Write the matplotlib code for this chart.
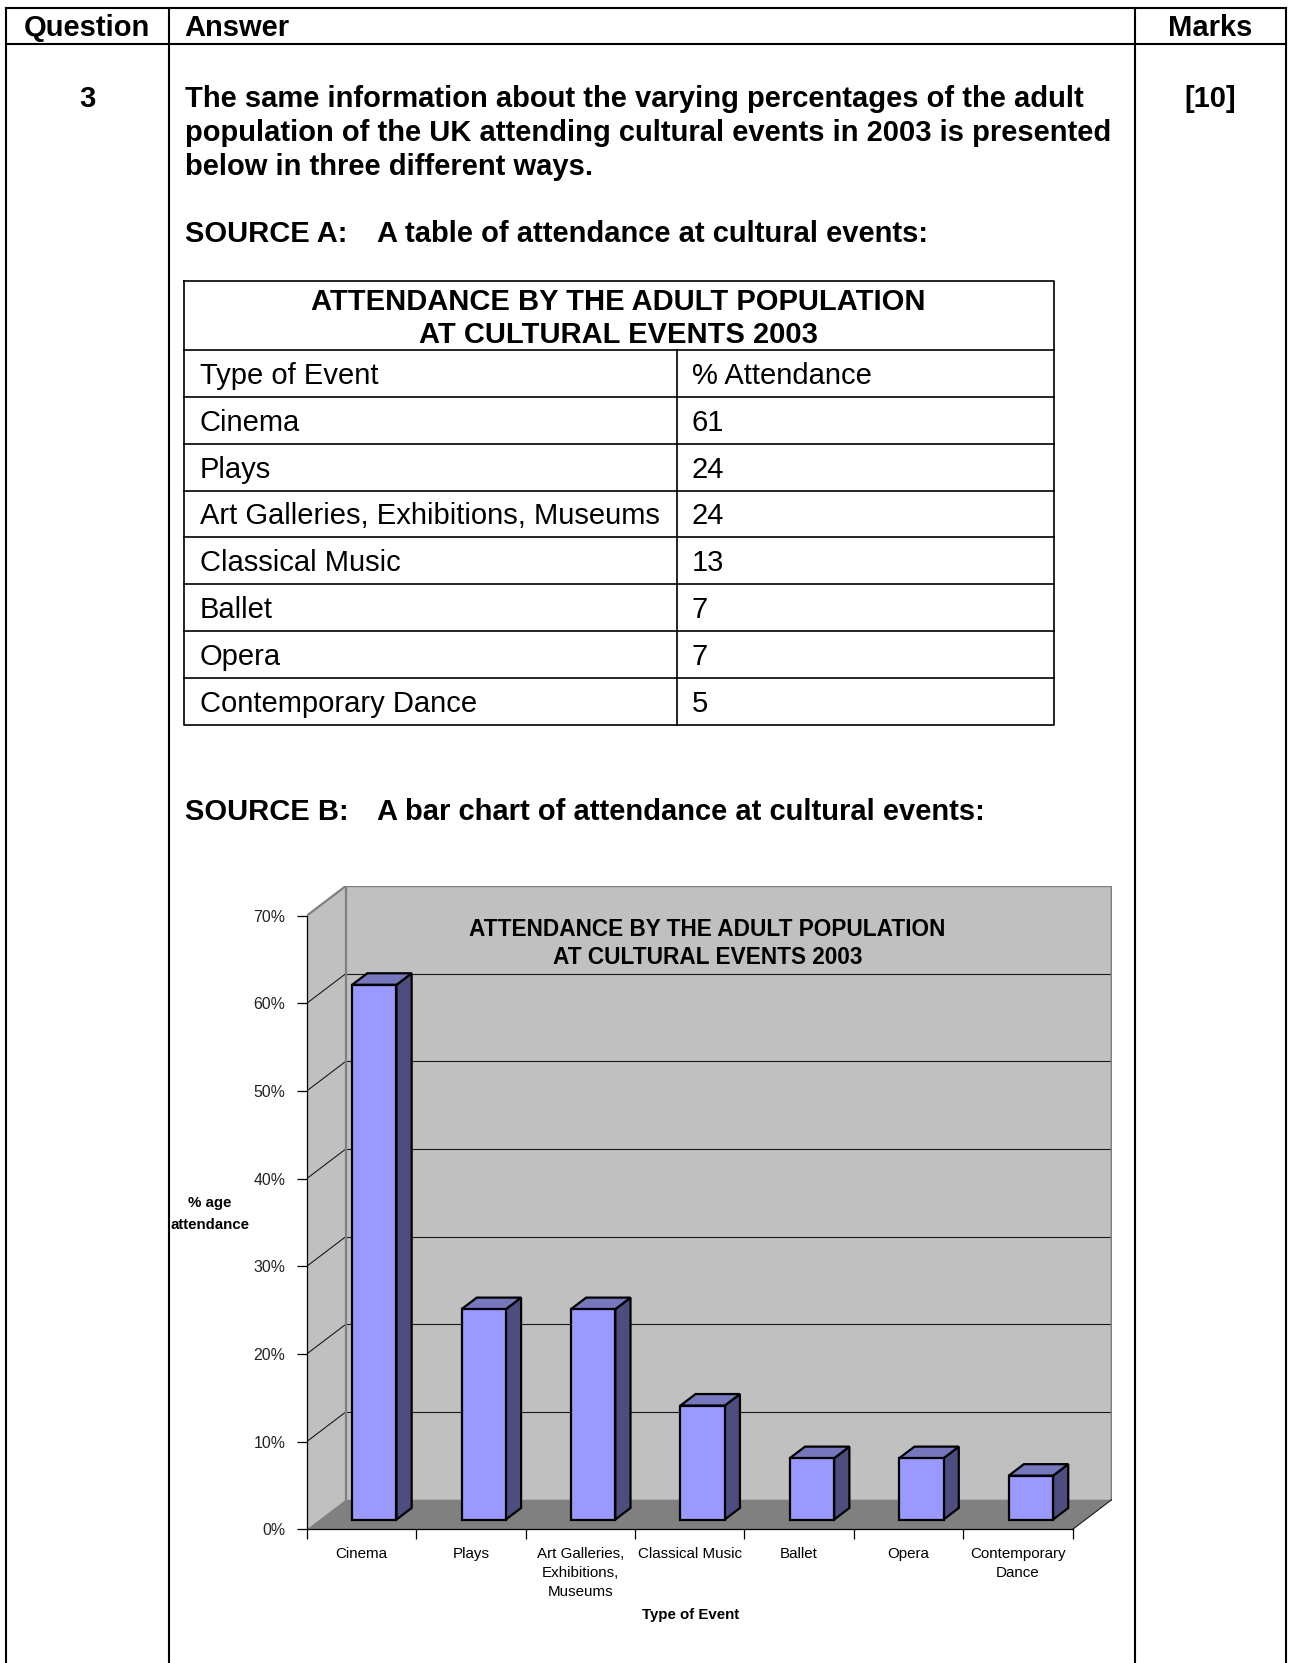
import matplotlib
matplotlib.use("Agg")
import matplotlib.pyplot as plt
from matplotlib.patches import Polygon
import numpy as np

plt.rcParams['font.family'] = ['Liberation Sans', 'DejaVu Sans']

# ---------------- data ----------------
categories = ["Cinema", "Plays", "Art Galleries, Exhibitions, Museums",
              "Classical Music", "Ballet", "Opera", "Contemporary Dance"]
chart_labels = ["Cinema", "Plays", "Art Galleries,\nExhibitions,\nMuseums",
                "Classical Music", "Ballet", "Opera", "Contemporary\nDance"]
attendance = [61, 24, 24, 13, 7, 7, 5]
y_ticks = [0, 10, 20, 30, 40, 50, 60, 70]
y_tick_labels = ["0%", "10%", "20%", "30%", "40%", "50%", "60%", "70%"]

header_question = "Question"
header_answer = "Answer"
header_marks = "Marks"
question_no = "3"
marks = "[10]"
intro_lines = ["The same information about the varying percentages of the adult",
               "population of the UK attending cultural events in 2003 is presented",
               "below in three different ways."]
source_a = ("SOURCE A:", "A table of attendance at cultural events:")
source_b = ("SOURCE B:", "A bar chart of attendance at cultural events:")
table_title = "ATTENDANCE BY THE ADULT POPULATION\nAT CULTURAL EVENTS 2003"
table_cols = ["Type of Event", "% Attendance"]
chart_title = "ATTENDANCE BY THE ADULT POPULATION\nAT CULTURAL EVENTS 2003"
y_label = "% age\nattendance"
x_label = "Type of Event"

# ---------------- page ----------------
W, H = 1290, 1663
fig = plt.figure(figsize=(W / 100, H / 100), dpi=100)
page = fig.add_axes([0, 0, 1, 1])
page.set_xlim(0, W)
page.set_ylim(H, 0)
page.axis('off')

BIG = 21
lwf = 1.5
L, C1, C2, R = 5.5, 168.7, 1135.2, 1285.5
TOP, HDR = 7.5, 43.5
page.plot([L, R], [TOP, TOP], color='k', lw=lwf, solid_capstyle='projecting')
page.plot([L, R], [HDR, HDR], color='k', lw=lwf)
for xv in (L, C1, C2, R):
    page.plot([xv, xv], [TOP, H + 5], color='k', lw=lwf, solid_capstyle='projecting')

page.text((L + C1) / 2, 36, header_question, ha='center', va='baseline', fontsize=BIG, weight='bold')
page.text(184.6, 36, header_answer, ha='left', va='baseline', fontsize=BIG, weight='bold')
page.text((C2 + R) / 2, 36, header_marks, ha='center', va='baseline', fontsize=BIG, weight='bold')
page.text((L + C1) / 2, 107, question_no, ha='center', va='baseline', fontsize=BIG, weight='bold')
page.text((C2 + R) / 2, 107, marks, ha='center', va='baseline', fontsize=BIG, weight='bold')
for i, line in enumerate(intro_lines):
    page.text(184.6, 107 + 34 * i, line, ha='left', va='baseline', fontsize=BIG, weight='bold')

page.text(184.6, 241.5, source_a[0], ha='left', va='baseline', fontsize=BIG, weight='bold')
page.text(376.6, 241.5, source_a[1], ha='left', va='baseline', fontsize=BIG, weight='bold')
page.text(184.6, 819.5, source_b[0], ha='left', va='baseline', fontsize=BIG, weight='bold')
page.text(376.6, 819.5, source_b[1], ha='left', va='baseline', fontsize=BIG, weight='bold')

# ---------------- Source A table ----------------
tl, tr, tt, tb = 183.5, 1053.5, 281.1, 724.6
th = 350.1
split = 676.9
nrows = len(categories) + 1
rh = (tb - th) / nrows
lwt = 1.2
page.plot([tl, tr, tr, tl, tl], [tt, tt, tb, tb, tt], color='k', lw=lwt)
page.plot([tl, tr], [th, th], color='k', lw=lwt)
page.plot([split, split], [th, tb], color='k', lw=lwt)
for r in range(1, nrows):
    page.plot([tl, tr], [th + r * rh, th + r * rh], color='k', lw=lwt)
page.text((tl + tr) / 2, (tt + th) / 2 + 3, table_title, ha='center', va='center',
          fontsize=BIG, weight='bold', linespacing=1.2)
rows = [table_cols] + [[c, str(v)] for c, v in zip(categories, attendance)]
for r, (a, b) in enumerate(rows):
    yb = th + r * rh + rh / 2 + 10.5
    page.text(199.5, yb, a, ha='left', va='baseline', fontsize=BIG)
    page.text(691.7, yb, b, ha='left', va='baseline', fontsize=BIG)

# ---------------- Source B: pseudo-3D bar chart ----------------
n = len(categories)
x0px, x1px = 306.7, 1072.7        # front x axis
y0px, y1px = 1529.3, 915.7        # front y axis 0..70
ppx = (x1px - x0px) / n
ppy = (y0px - y1px) / 70.0
DX = 39.0 / ppx                   # depth offset in data units
DY = 29.6 / ppy
ax = fig.add_axes([x0px / W, (H - y0px) / H, (n + DX) * ppx / W, (70 + DY) * ppy / H])
ax.set_xlim(0, n + DX)
ax.set_ylim(0, 70 + DY)
ax.patch.set_visible(False)
for s in ('top', 'right'):
    ax.spines[s].set_visible(False)
ax.spines['left'].set_bounds(0, 70)
ax.spines['bottom'].set_bounds(0, n)
for s in ('left', 'bottom'):
    ax.spines[s].set_linewidth(0.9)
    ax.spines[s].set_zorder(6)

wall = '#C0C0C0'
floor = '#808080'
ax.add_patch(Polygon([(0, 0), (0, 70), (DX, 70 + DY), (DX, DY)], closed=True, fc=wall, ec='none', zorder=0.5))
ax.add_patch(Polygon([(DX, DY), (n + DX, DY), (n + DX, 70 + DY), (DX, 70 + DY)], closed=True, fc=wall, ec='none', zorder=0.5))
ax.add_patch(Polygon([(0, 0), (n, 0), (n + DX, DY), (DX, DY)], closed=True, fc=floor, ec='none', zorder=0.6))
for v in y_ticks[1:-1]:
    ax.plot([DX, n + DX], [v + DY, v + DY], color='#1a1a1a', lw=0.8, zorder=1)
    ax.plot([0, DX], [v, v + DY], color='#1a1a1a', lw=0.8, zorder=1)
ax.plot([0, DX, n + DX, n + DX], [70, 70 + DY, 70 + DY, DY], color='#808080', lw=1.6, zorder=1.1)
ax.plot([DX, DX], [DY, 70 + DY], color='#808080', lw=1.6, zorder=1.1)
ax.plot([n, n + DX], [0, DY], color='#1a1a1a', lw=0.8, zorder=1.1)

BW = 0.405      # bar width (category units)
D1 = 0.33       # front face depth fraction
BD = 0.39       # bar depth fraction
front_c, side_c, top_c = '#9999FF', '#4D4D80', '#7777BE'
for i, v in enumerate(attendance):
    xa = i + 0.5 - BW / 2 + D1 * DX
    ya = D1 * DY
    xb = xa + BW
    ox, oy = BD * DX, BD * DY
    kw = dict(closed=True, ec='black', lw=1.6, joinstyle='miter', zorder=3 + i * 0.01)
    ax.add_patch(Polygon([(xb, ya), (xb + ox, ya + oy), (xb + ox, ya + v + oy), (xb, ya + v)], fc=side_c, **kw))
    ax.add_patch(Polygon([(xa, ya + v), (xb, ya + v), (xb + ox, ya + v + oy), (xa + ox, ya + v + oy)], fc=top_c, **kw))
    ax.add_patch(Polygon([(xa, ya), (xb, ya), (xb, ya + v), (xa, ya + v)], fc=front_c, **kw))

ax.set_yticks(y_ticks)
ax.set_yticklabels(y_tick_labels)
ax.set_xticks(np.arange(n + 1))
ax.set_xticklabels([])
ax.set_xticks(np.arange(n) + 0.5, minor=True)
ax.set_xticklabels(chart_labels, minor=True)
ax.tick_params(axis='both', which='major', length=7.2, width=0.9, direction='out', color='black')
ax.tick_params(axis='y', labelsize=11.4, pad=8)
ax.tick_params(axis='x', which='minor', length=0, pad=12.5, labelsize=10.9)
for t in ax.get_xticklabels(minor=True):
    t.set_linespacing(1.45)
for t in ax.get_yticklabels():
    t.set_color('#222222')

# texts drawn at figure level (on top of the chart walls), positioned in page pixels
fig.text(707.5, 943.5, chart_title, ha='center', va='center', fontsize=16.3,
         weight='bold', linespacing=1.3, transform=page.transData, zorder=10)
fig.text(210, 1213.7, y_label, ha='center', va='center', fontsize=10.8,
         weight='bold', linespacing=1.72, transform=page.transData)
fig.text(690.7, 1615, x_label, ha='center', va='center', fontsize=10.8, weight='bold',
         transform=page.transData)

fig.savefig("out.png", dpi=100)
